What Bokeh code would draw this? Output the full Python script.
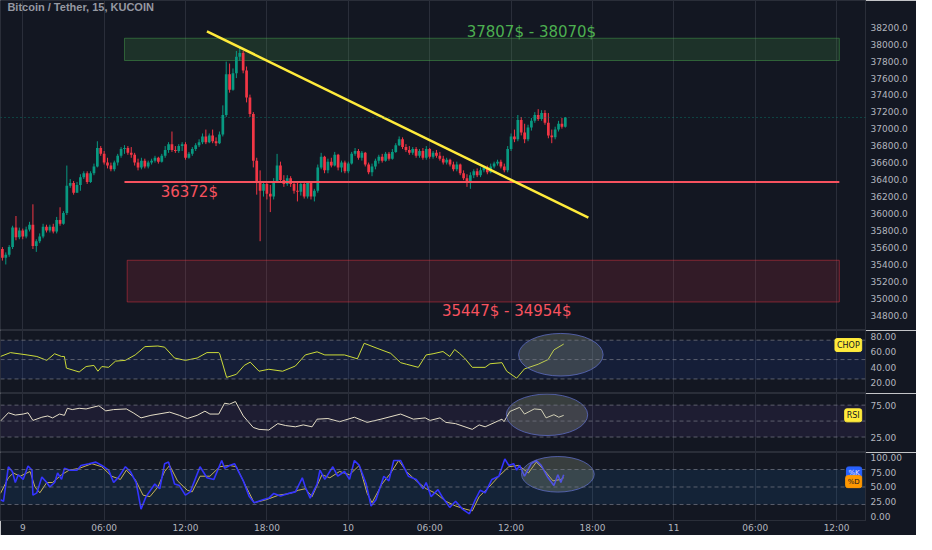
import numpy as np
from bokeh.plotting import figure
from bokeh.layouts import column
from bokeh.models import (ColumnDataSource, FixedTicker, Grid, Span, BoxAnnotation,
                          Label, NumeralTickFormatter, Range1d, LinearAxis)
from bokeh.embed import file_html
from bokeh.resources import INLINE

# ---------------- data ----------------
TITLE = "Bitcoin / Tether, 15, KUCOIN"
first_bar_hour = -1.5      # 8 Nov 22:30, hours counted from 9 Nov 00:00
bar_hours = 0.25           # 15-minute candles
first_open = 35580

close = [
    35477, 35511, 35603, 35833, 35718, 35798, 35729, 35810, 35867, 35615,
    35672, 35729, 35844, 35798, 35844, 35787, 35924, 35878, 36004, 36326,
    36360, 36245, 36337, 36429, 36475, 36372, 36475, 36555, 36773, 36704,
    36601, 36566, 36521, 36601, 36681, 36761, 36773, 36716, 36693, 36601,
    36544, 36624, 36555, 36601, 36624, 36658, 36612, 36681, 36750, 36819,
    36750, 36738, 36796, 36819, 36658, 36704, 36761, 36807, 36842, 36910,
    36842, 36922, 36853, 36830, 36933, 37163, 37644, 37461, 37656, 37851,
    37897, 37690, 37369, 37174, 36624, 36360, 36268, 36349, 36234, 36199,
    36383, 36566, 36394, 36349, 36417, 36349, 36268, 36257, 36349, 36199,
    36360, 36199, 36268, 36544, 36670, 36509, 36612, 36566, 36693, 36544,
    36601, 36498, 36589, 36704, 36738, 36658, 36716, 36578, 36486, 36555,
    36624, 36670, 36624, 36704, 36647, 36727, 36807, 36876, 36784, 36750,
    36716, 36761, 36681, 36738, 36658, 36761, 36670, 36716, 36681, 36647,
    36601, 36635, 36578, 36521, 36578, 36475, 36417, 36383, 36452, 36498,
    36452, 36509, 36544, 36486, 36555, 36589, 36612, 36555, 36509, 36761,
    36910, 36876, 37105, 36956, 36876, 37014, 37094, 37163, 37117, 37186,
    37071, 36922, 36899, 36991, 37060, 37025, 37133]

high = [
    35603, 35540, 35626, 35855, 35970, 35833, 35821, 35844, 35901, 36108,
    35695, 35764, 35878, 35867, 35867, 35878, 35959, 36073, 36027, 36566,
    36406, 36383, 36372, 36463, 36498, 36498, 36498, 36589, 36853, 36796,
    36738, 36658, 36601, 36624, 36704, 36784, 36807, 36796, 36784, 36716,
    36647, 36658, 36647, 36624, 36647, 36681, 36670, 36704, 36796, 36842,
    36968, 36796, 36819, 36842, 36842, 36727, 36784, 36830, 36876, 36945,
    36991, 36945, 36991, 36899, 36968, 37277, 37794, 37771, 37713, 37920,
    37966, 37920, 37736, 37404, 37197, 36658, 36509, 36383, 36383, 36337,
    36417, 36704, 36612, 36452, 36452, 36440, 36383, 36360, 36383, 36360,
    36383, 36383, 36291, 36578, 36716, 36681, 36647, 36658, 36727, 36704,
    36624, 36624, 36612, 36727, 36773, 36761, 36738, 36727, 36601, 36589,
    36647, 36693, 36704, 36727, 36727, 36761, 36830, 36910, 36899, 36819,
    36796, 36784, 36784, 36761, 36773, 36796, 36773, 36738, 36750, 36727,
    36681, 36658, 36647, 36612, 36612, 36589, 36509, 36463, 36486, 36521,
    36532, 36544, 36566, 36566, 36589, 36612, 36635, 36635, 36589, 36796,
    36945, 36991, 37163, 37140, 37060, 37048, 37128, 37197, 37232, 37220,
    37220, 37186, 36991, 37025, 37094, 37128, 37140]

low = [
    35443, 35397, 35488, 35580, 35683, 35695, 35695, 35706, 35787, 35580,
    35546, 35649, 35706, 35775, 35775, 35764, 35764, 35855, 35867, 35982,
    36303, 36222, 36245, 36268, 36406, 36349, 36360, 36452, 36544, 36681,
    36578, 36532, 36498, 36498, 36566, 36658, 36704, 36693, 36658, 36566,
    36509, 36521, 36532, 36532, 36578, 36601, 36589, 36601, 36658, 36716,
    36727, 36716, 36716, 36738, 36635, 36647, 36681, 36738, 36784, 36819,
    36819, 36830, 36830, 36796, 36819, 36910, 37140, 37427, 37450, 37599,
    37805, 37656, 37312, 37140, 36544, 36222, 35672, 36199, 36165, 36016,
    36165, 36360, 36360, 36314, 36326, 36314, 36234, 36142, 36211, 36176,
    36176, 36165, 36142, 36245, 36521, 36475, 36475, 36544, 36555, 36509,
    36486, 36475, 36475, 36578, 36681, 36635, 36624, 36555, 36463, 36440,
    36521, 36589, 36601, 36612, 36624, 36635, 36716, 36796, 36761, 36727,
    36693, 36693, 36658, 36658, 36635, 36635, 36647, 36647, 36658, 36624,
    36578, 36578, 36555, 36498, 36498, 36452, 36394, 36314, 36291, 36417,
    36429, 36429, 36486, 36463, 36475, 36532, 36566, 36532, 36486, 36486,
    36738, 36842, 36853, 36922, 36830, 36853, 36979, 37071, 37094, 37094,
    37048, 36888, 36830, 36876, 36968, 37002, 37014]

# time axis (hours from 9 Nov 00:00)
time_ticks = [0, 6, 12, 18, 24, 30, 36, 42, 48, 54, 60]
time_labels = ["9", "06:00", "12:00", "18:00", "10", "06:00", "12:00",
               "18:00", "11", "06:00", "12:00"]
price_ticks = [34800, 35000, 35200, 35400, 35600, 35800, 36000, 36200,
               36400, 36600, 36800, 37000, 37200, 37400, 37600, 37800,
               38000, 38200]

# drawings
resist_zone = (37807, 38070)
demand_zone = (34954, 35447)
support_level = 36372
trend_t = [13.58, 41.7]
trend_p = [38152.1, 35950.9]
last_price = 37133.3

# Choppiness index
chop_t = [-1.64, -0.91, 0.32, 1.04, 1.77, 2.35, 2.86, 3.07, 3.22, 4.16, 4.67, 5.25,
          5.54, 5.83, 6.33, 6.84, 7.56, 8.29, 9.01, 9.96, 10.46, 11.19, 11.99,
          12.86, 13.58, 14.45, 14.52, 15.03, 15.75, 16.33, 16.77, 17.42, 18.14,
          19.16, 20.10, 20.83, 21.70, 22.27, 23.72, 24.67, 25.17, 26.12, 27.13,
          27.86, 28.29, 29.16, 29.74, 30.25, 30.98, 31.48, 31.84, 32.20, 32.57,
          33.14, 34.09, 34.45, 35.33, 35.68, 36.41, 36.99, 38.00, 38.73, 39.16, 39.88]
chop_v = [54, 59, 56, 54, 49, 57.5, 54, 54, 39, 34, 41, 42.5,
          35, 41, 40, 48, 49, 56, 66.7, 67.5, 66, 52, 49,
          52, 59, 59, 57.5, 27, 31, 42.5, 46.7, 35, 37.5,
          35, 41.7, 56, 60, 56, 56, 51, 71, 64.6, 58,
          46, 44, 40, 56, 57.5, 60.4, 54, 63, 58, 52,
          40, 40, 44.6, 46, 35, 26, 38, 44, 50, 62.5, 70]

# RSI
rsi_t = [-1.64, -1.06, -0.55, 0.03, 0.39, 0.75, 1.41, 1.84, 2.20, 2.71, 3.07, 3.29,
         3.65, 4.16, 4.67, 5.61, 6.12, 6.70, 7.64, 8.14, 8.72, 9.45, 10.83, 11.55,
         12.13, 12.86, 13.43, 13.80, 14.45, 14.88, 15.25, 15.68, 16.26, 16.99,
         17.42, 18.14, 18.80, 19.38, 20.10, 20.68, 21.33, 21.70, 22.50, 23.36,
         24.45, 25.39, 26.41, 27.86, 28.80, 29.67, 30.03, 30.76, 31.19, 31.91,
         33.14, 33.65, 34.09, 35.33, 35.48, 35.91, 36.63, 36.99, 37.71, 38.22,
         38.58, 39.16, 39.52, 39.88]
rsi_v = [50, 63, 59.4, 61, 63, 51, 56, 58, 55, 61, 59, 70,
         68, 70, 69, 74, 66, 68, 69, 63, 55, 59, 64, 59,
         54, 59, 65.5, 61, 61, 78, 76.5, 80.6, 58, 40,
         37, 36, 46, 43, 41, 44, 41, 53, 54, 49,
         56, 48, 53, 61, 53, 55, 51, 55, 48, 46,
         37, 44, 41, 53, 49, 65, 71.5, 61, 69, 68,
         55, 60, 56, 59]

# Stochastic %K / %D
k_t = [-1.64, -1.42, -1.06, -0.77, -0.55, -0.33, 0.03, 0.39, 0.68, 0.75, 1.04, 1.41,
       1.77, 1.99, 2.35, 2.57, 2.86, 3.07, 3.43, 4.01, 4.30, 4.88, 5.39, 5.83,
       6.33, 6.70, 7.07, 7.57, 7.93, 8.36, 8.72, 9.09, 9.74, 10.10, 10.46, 10.75,
       11.19, 11.55, 11.99, 12.35, 13.07, 13.58, 14.09, 14.67, 14.88, 15.25, 15.61,
       16.26, 16.70, 17.06, 17.71, 18.14, 18.51, 19.01, 19.59, 20.10, 20.61, 20.83,
       21.19, 21.70, 21.91, 22.27, 22.86, 23.22, 23.72, 24.09, 24.45, 24.81, 25.32,
       25.68, 26.04, 26.62, 26.99, 27.35, 27.86, 28.43, 29.01, 29.52, 29.74, 30.10,
       30.61, 30.98, 31.48, 31.91, 32.42, 32.93, 33.36, 33.72, 34.09, 34.59, 35.10,
       35.54, 35.83, 36.19, 36.41, 36.63, 36.99, 37.49, 37.86, 38.22, 38.73, 39.16,
       39.45, 39.67, 39.88]
k_v = [28, 25.5, 84.7, 76.6, 57.7, 71, 63, 86, 79, 36, 40, 67,
       57.7, 50, 57.7, 74, 63, 82, 79, 79, 87, 90, 92.7, 87,
       79, 57.7, 67, 84.7, 76.6, 57.7, 12, 33.5, 55, 47, 90, 92.7,
       55, 52.4, 36, 41.6, 84.7, 65.8, 63, 95.5, 82, 87, 90,
       60.5, 33.5, 23, 28, 31, 39, 34.7, 39, 41.6, 65.8, 50,
       31, 55, 79, 63, 84.7, 68.5, 76.6, 63, 95.5, 87, 55,
       17.4, 28, 68.5, 60.5, 95.5, 95.5, 68.5, 63, 47, 57.7, 33.5,
       45.5, 31, 15, 25.5, 12, 4, 28, 44.4, 40, 63, 68.5,
       98, 87, 90, 79, 87, 68.5, 90, 95.5, 87, 65.8, 52.4,
       71, 57.7, 71]
d_t = [-1.64, -1.06, -0.70, -0.19, 0.54, 0.90, 1.26, 1.77, 2.20, 2.86, 3.43, 4.16,
       5.10, 5.83, 6.55, 7.20, 7.64, 8.29, 8.87, 9.38, 9.96, 10.46, 10.83, 11.41,
       12.13, 12.49, 13.07, 13.80, 14.52, 15.25, 15.75, 16.48, 17.06, 17.93, 18.87,
       19.74, 20.32, 20.83, 21.33, 22.06, 22.64, 23.36, 24.09, 24.81, 25.39, 25.75,
       26.48, 27.13, 27.71, 28.29, 29.01, 29.74, 30.46, 31.19, 31.91, 32.64, 33.14,
       33.65, 34.38, 35.10, 35.83, 36.56, 37.28, 37.86, 38.44, 39.09, 39.67, 39.88]
d_v = [39, 65.8, 74, 68.5, 76.6, 50, 40, 57.7, 57.7, 71, 79, 82,
       90, 84.7, 68.5, 63, 79, 63, 36, 33.5, 50, 76.6, 87, 60.5,
       44.4, 41.6, 68.5, 68.5, 84.7, 87, 84.7, 50, 23, 28, 36,
       39, 44.4, 47, 33.5, 71, 65.8, 76.6, 71, 87, 39, 23,
       55, 74, 95.5, 76.6, 60.5, 47, 39, 25.5, 17.4, 12, 9,
       33.5, 50, 68.5, 84.7, 87, 74, 92.7, 79, 60.5, 63, 65.8]

# ---------------- build ----------------
BG = "#131722"
GRID = "#2a2e3a"
SEP = "#2a2e39"
TXT = "#b2b5be"
UP = "#089981"
DOWN = "#f23645"
FONT = "DejaVu Sans"

n = len(close)
t = first_bar_hour + bar_hours * np.arange(n)
opens = [first_open] + close[:-1]
colors = [UP if c >= o else DOWN for o, c in zip(opens, close)]
src = ColumnDataSource(dict(t=t, open=opens, close=close, high=high, low=low, color=colors))

XR = Range1d(-1.64, 62.13)
FW = 865
RB = 51


def make_fig(h, yr, ticks, fmt, bottom=0):
    p = figure(frame_width=FW, frame_height=h, x_range=XR, y_range=Range1d(*yr),
               y_axis_location="right", x_axis_location=None,
               toolbar_location=None, output_backend="svg", tools="",
               background_fill_color=BG, border_fill_color=BG,
               min_border=0, min_border_right=RB, min_border_bottom=bottom,
               min_border_top=0, min_border_left=0,
               outline_line_color=SEP)
    ax = p.yaxis[0]
    ax.ticker = FixedTicker(ticks=ticks)
    ax.formatter = NumeralTickFormatter(format=fmt)
    ax.major_label_text_font = FONT
    ax.major_label_text_font_size = "9px"
    ax.major_label_text_color = TXT
    ax.major_tick_line_color = None
    ax.minor_tick_line_color = None
    ax.major_tick_out = 0
    ax.major_tick_in = 0
    ax.major_label_standoff = 5
    ax.axis_line_color = SEP
    # remove every default grid, then add the time grid only
    for r in list(p.center):
        if isinstance(r, Grid):
            r.grid_line_color = None
            r.visible = False
    p.add_layout(Grid(dimension=0, ticker=FixedTicker(ticks=time_ticks),
                      grid_line_color=GRID, grid_line_width=1))
    return p


def tag(p, x, y, text, bg, fg, align="left", size="9px"):
    p.add_layout(Label(x=x, y=y, text=text, text_align=align, text_baseline="middle",
                       text_font=FONT, text_font_size=size, text_color=fg,
                       background_fill_color=bg, border_line_color=bg,
                       padding=2, border_radius=2, level="overlay"))


# ---- main price pane ----
main = make_fig(330, (34617, 38516), price_ticks, "0.0")

main.add_layout(BoxAnnotation(left=7.5, right=60.2, bottom=resist_zone[0], top=resist_zone[1],
                              fill_color="#4caf50", fill_alpha=0.18, line_color="#4caf50",
                              line_alpha=0.45, line_width=1, level="underlay"))
main.add_layout(BoxAnnotation(left=7.7, right=60.2, bottom=demand_zone[0], top=demand_zone[1],
                              fill_color="#f23645", fill_alpha=0.14, line_color="#f23645",
                              line_alpha=0.45, line_width=1, level="underlay"))
main.add_layout(Span(location=last_price, dimension="width", line_color=UP,
                     line_alpha=0.7, line_dash="1 3", line_width=1))

main.segment(x0="t", y0="high", x1="t", y1="low", color="color", line_width=1, source=src)
main.vbar(x="t", width=0.2, top="open", bottom="close", fill_color="color",
          line_color=None, source=src)

main.segment(x0=[7.5], y0=[support_level], x1=[60.2], y1=[support_level],
             line_color="#f7525f", line_width=2)
main.segment(x0=[trend_t[0]], y0=[trend_p[0]], x1=[trend_t[1]], y1=[trend_p[1]],
             line_color="#ffeb3b", line_width=2.5)

main.add_layout(Label(x=-1.13, y=38436, text=TITLE, text_font="Liberation Sans",
                      text_font_size="11px", text_font_style="bold", text_color="#9598a1",
                      text_baseline="middle"))
main.add_layout(Label(x=37.5, y=38149, text="37807$ - 38070$", text_font=FONT,
                      text_font_size="15px", text_color="#4caf50", text_align="center",
                      text_baseline="middle"))
main.add_layout(Label(x=12.28, y=36257, text="36372$", text_font=FONT,
                      text_font_size="15px", text_color="#f7525f", text_align="center",
                      text_baseline="middle"))
main.add_layout(Label(x=35.68, y=34846, text="35447$ - 34954$", text_font=FONT,
                      text_font_size="15px", text_color="#f7525f", text_align="center",
                      text_baseline="middle"))

main.add_layout(Label(x=63.87, y=38401, text="USDT", text_font=FONT, text_font_size="9px",
                      text_color=TXT, text_align="center", text_baseline="middle",
                      background_fill_color=BG, border_line_color="#434651",
                      padding=3, border_radius=3, level="overlay"))
tag(main, 62.35, trend_p[0], "38152.1", "#ffeb3b", "#131722")
tag(main, 62.35, 37071, "37133.3\n00:58", UP, "#ffffff")
tag(main, 62.35, 36326, "36372.5\n36372.5", DOWN, "#ffffff")
tag(main, 62.35, trend_p[1], "35950.9", "#ffeb3b", "#131722")
tag(main, 62.35, 35451.1, "35451.1", "#ffeb3b", "#131722")

# ---- CHOP pane ----
chop = make_fig(63, (6.25, 87.5), [20, 40, 60, 80], "0.00")
chop.add_layout(BoxAnnotation(bottom=25, top=75, fill_color="#2962ff", fill_alpha=0.1,
                              line_color=None, level="underlay"))
for lv in (25, 50, 75):
    chop.add_layout(Span(location=lv, dimension="width", line_color="#787b86",
                         line_alpha=0.7, line_dash="4 3", line_width=1))
chop.line(chop_t, chop_v, line_color="#cddc39", line_width=1)
chop.ellipse(x=[39.67], y=[56.25], width=[6.23], height=[55], fill_color="#9aa58a",
             fill_alpha=0.28, line_color="#5c6bc0", line_alpha=0.8, line_width=1)
tag(chop, 61.85, 68.75, "CHOP", "#ffeb3b", "#131722", align="right", size="8px")

# ---- RSI pane ----
rsi = make_fig(59, (0.76, 93.2), [25, 75], "0.00")
rsi.add_layout(BoxAnnotation(bottom=25, top=75, fill_color="#7e57c2", fill_alpha=0.1,
                             line_color=None, level="underlay"))
for lv in (25, 50, 75):
    rsi.add_layout(Span(location=lv, dimension="width", line_color="#787b86",
                        line_alpha=0.7, line_dash="4 3", line_width=1))
rsi.line(rsi_t, rsi_v, line_color="#e6dfc8", line_width=1)
rsi.ellipse(x=[38.65], y=[59.8], width=[6.0], height=[65], fill_color="#9aa58a",
            fill_alpha=0.28, line_color="#5c6bc0", line_alpha=0.8, line_width=1)
tag(rsi, 61.85, 59, "RSI", "#ffeb3b", "#131722", align="right", size="8px")

# ---- Stochastic pane ----
stoch = make_fig(68, (-7.5, 109.2), [0, 25, 50, 75, 100], "0.00", bottom=14)
stoch.add_layout(BoxAnnotation(bottom=20, top=80, fill_color="#2196f3", fill_alpha=0.1,
                               line_color=None, level="underlay"))
for lv in (20, 50, 80):
    stoch.add_layout(Span(location=lv, dimension="width", line_color="#787b86",
                          line_alpha=0.7, line_dash="4 3", line_width=1))
stoch.line(d_t, d_v, line_color="#c9b458", line_width=1)
stoch.line(k_t, k_v, line_color="#3434ff", line_width=1.6)
stoch.ellipse(x=[39.45], y=[71.8], width=[5.36], height=[61], fill_color="#9aa58a",
              fill_alpha=0.28, line_color="#5c6bc0", line_alpha=0.8, line_width=1)
tag(stoch, 61.85, 74.2, "%K", "#2962ff", "#e0e0ff", align="right", size="7px")
tag(stoch, 61.85, 59.2, "%D", "#ff9800", "#131722", align="right", size="7px")

xax = LinearAxis(ticker=FixedTicker(ticks=time_ticks),
                 major_label_overrides={tk: lb for tk, lb in zip(time_ticks, time_labels)})
xax.major_label_text_font = FONT
xax.major_label_text_font_size = "9px"
xax.major_label_text_color = TXT
xax.major_tick_line_color = None
xax.minor_tick_line_color = None
xax.major_tick_out = 0
xax.major_tick_in = 0
xax.major_label_standoff = 2
xax.axis_line_color = SEP
stoch.add_layout(xax, "below")

layout = column(main, chop, rsi, stoch, spacing=0)

open("out.html", "w").write(file_html(layout, INLINE))
